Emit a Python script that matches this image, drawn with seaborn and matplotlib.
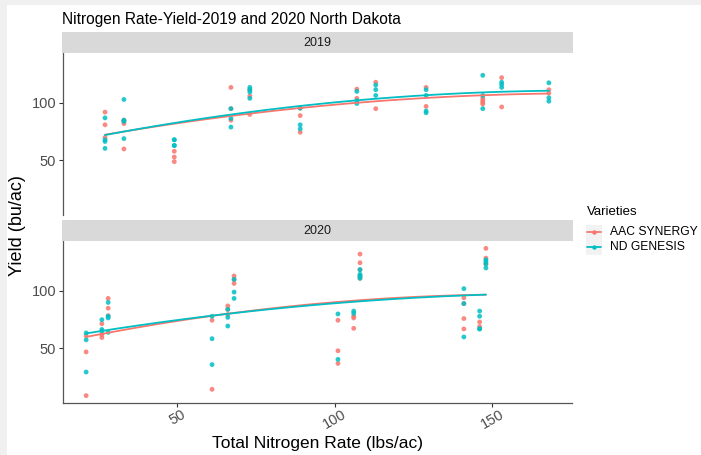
import numpy as np
import pandas as pd
import matplotlib
matplotlib.use("Agg")
import matplotlib.pyplot as plt
from matplotlib.lines import Line2D
from matplotlib.patches import Rectangle
import seaborn as sns

# ---- data -------------------------------------------------------------
years = ["2019", "2020"]
varieties = ["AAC SYNERGY", "ND GENESIS"]

rate_2019_synergy = [27, 27, 27, 33, 33, 33, 33, 49, 49, 49, 67, 67, 67,
                     73, 73, 73, 89, 89, 89, 107, 107, 113, 113, 129, 129,
                     147, 147, 147, 147, 153, 153, 168, 168]
yield_2019_synergy = [92, 81, 70, 82, 60, 85, 84, 58, 53, 49, 113.5, 85, 95,
                      106, 90, 111.5, 89, 74.5, 95.5, 112, 104, 118, 95, 113.5, 97,
                      104, 102, 100.5, 99, 122, 96.5, 111.5, 108.5]

rate_2019_genesis = [27, 27, 27, 27, 33, 33, 33, 33, 49, 49, 49, 49, 67, 67, 67,
                     73, 73, 73, 73, 89, 89, 89, 107, 107, 107, 113, 113, 113,
                     129, 129, 129, 129, 147, 147, 147, 153, 153, 153, 168, 168, 168]
yield_2019_genesis = [87, 68, 66.5, 60.5, 103, 85, 84, 69, 68, 63, 68, 63,
                      95, 86.5, 79,
                      113.5, 111.5, 109.5, 104, 95.5, 81, 77.5, 110, 102, 99.5,
                      115.5, 111.5, 106.5, 111.5, 106.5, 93, 91.5, 124, 106.5, 95,
                      118, 116, 113.5, 117.5, 104.5, 101.5]

rate_2020_synergy = [21, 21, 21, 26, 26, 26, 28, 28, 28, 61, 61, 66, 66, 66,
                     68, 68, 68,
                     101, 101, 101, 106, 106, 106, 108, 108, 108, 108, 108,
                     141, 141, 141, 141, 146, 146, 148, 148, 148]
yield_2020_synergy = [61, 47, 9, 71.5, 62, 59.5, 93.5, 85, 78.5, 74.5, 14.5,
                      87, 79.5, 84, 113, 106.5, 110,
                      74.5, 48, 37, 78, 76.5, 67.5, 132, 124.5, 118.5, 113, 111,
                      94, 89, 76, 67, 73, 69, 137, 128.5, 123.5]

rate_2020_genesis = [21, 21, 21, 26, 26, 26, 28, 28, 28, 28, 61, 61, 61, 66, 66, 66,
                     68, 68, 68, 101, 101, 106, 106, 108, 108, 108, 108,
                     141, 141, 141, 146, 146, 146, 146, 148, 148, 148, 148]
yield_2020_genesis = [63.5, 57.5, 29.5, 75, 66.5, 65, 90, 78, 76.5, 64, 78, 58.5, 36,
                      84, 77, 69.5, 110, 99, 93.5, 80, 40.5, 82.5, 80.5,
                      118.5, 114.5, 113, 111, 102, 89, 60, 82.5, 78, 67, 67,
                      127, 125.5, 123.5, 120]

y_ticks = [50, 100]
x_ticks = [50, 100, 150]

frames = []
for yr, var, r, y in [
    ("2019", "AAC SYNERGY", rate_2019_synergy, yield_2019_synergy),
    ("2019", "ND GENESIS", rate_2019_genesis, yield_2019_genesis),
    ("2020", "AAC SYNERGY", rate_2020_synergy, yield_2020_synergy),
    ("2020", "ND GENESIS", rate_2020_genesis, yield_2020_genesis),
]:
    frames.append(pd.DataFrame({"Year": yr, "Varieties": var,
                                "Rate": r, "Yield": y}))
df = pd.concat(frames, ignore_index=True)

# ---- styling ----------------------------------------------------------
sns.set_style("white")
plt.rcParams["font.family"] = ["Liberation Sans", "DejaVu Sans"]
palette = {"AAC SYNERGY": "#F8766D", "ND GENESIS": "#00BFC4"}
axis_grey = "#4d4d4d"

W, H = 701, 455
fig = plt.figure(figsize=(W / 100, H / 100), dpi=100)
fig.patch.set_facecolor("white")


def box(l, t, r, b):
    return [l / W, 1 - b / H, (r - l) / W, (b - t) / H]


def fx(px):
    return px / W


def fy(py):
    return 1 - py / H


# light frame along the top and left edges
fig.add_artist(Rectangle((0, fy(5)), 1, 5 / H, transform=fig.transFigure,
                         color="#f0f0f0", lw=0, zorder=0))
fig.add_artist(Rectangle((0, 0), fx(7), 1, transform=fig.transFigure,
                         color="#f0f0f0", lw=0, zorder=0))

panels = {
    "2019": dict(ax=box(63, 53, 572, 215), strip=(32, 53)),
    "2020": dict(ax=box(63, 241, 572, 403), strip=(220, 241)),
}

# shared scale limits with 5% padding
xr = (df["Rate"].min(), df["Rate"].max())
yr_ = (df["Yield"].min(), df["Yield"].max())
xpad = 0.05 * (xr[1] - xr[0])
ypad = 0.05 * (yr_[1] - yr_[0])

for i, yr in enumerate(years):
    ax = fig.add_axes(panels[yr]["ax"])
    sub = df[df["Year"] == yr]
    sns.scatterplot(data=sub, x="Rate", y="Yield", hue="Varieties",
                    hue_order=varieties, palette=palette, s=12,
                    linewidth=0, alpha=0.85, legend=False, ax=ax, zorder=2)
    for var in varieties:
        sns.regplot(data=sub[sub["Varieties"] == var], x="Rate", y="Yield",
                    order=2, ci=None, scatter=False, truncate=True,
                    color=palette[var], line_kws=dict(lw=1.3), ax=ax)
    ax.set_xlim(xr[0] - xpad, xr[1] + xpad)
    ax.set_ylim(yr_[0] - ypad, yr_[1] + ypad)
    ax.set_yticks(y_ticks)
    ax.set_yticklabels([str(t) for t in y_ticks], fontsize=10.5, color=axis_grey)
    ax.set_xticks(x_ticks)
    ax.set_xlabel("")
    ax.set_ylabel("")
    for side in ("top", "right"):
        ax.spines[side].set_visible(False)
    ax.spines["left"].set_color("#555555")
    ax.spines["left"].set_linewidth(0.9)
    ax.tick_params(axis="y", length=3, width=0.8, color="#333333", pad=2,
                   left=True)
    if i == 0:
        ax.spines["bottom"].set_visible(False)
        ax.tick_params(axis="x", bottom=False, labelbottom=False)
    else:
        ax.spines["bottom"].set_color("#555555")
        ax.spines["bottom"].set_linewidth(0.9)
        ax.tick_params(axis="x", length=3, width=0.8, color="#333333",
                       bottom=True, pad=0)
        ax.set_xticklabels([str(t) for t in x_ticks], fontsize=10.5,
                           color=axis_grey, rotation=30, ha="center")

    # facet strip
    t, b = panels[yr]["strip"]
    fig.add_artist(Rectangle((fx(62), fy(b)), (573 - 62) / W, (b - t) / H,
                             transform=fig.transFigure, color="#d9d9d9",
                             lw=0, zorder=1))
    fig.text(fx((62 + 573) / 2), fy((t + b) / 2), yr, ha="center",
             va="center", fontsize=9, color="#1a1a1a")

fig.text(fx(62), fy(24), "Nitrogen Rate-Yield-2019 and 2020 North Dakota",
         fontsize=11.2, va="baseline", ha="left", color="black")
fig.text(fx(18), fy(226), "Yield (bu/ac)", rotation=90, ha="center",
         va="center", fontsize=13, color="black")
fig.text(fx(317), fy(448), "Total Nitrogen Rate (lbs/ac)", ha="center",
         va="baseline", fontsize=12.5, color="black")

# legend: title, grey key boxes, line-with-point keys and labels
fig.text(fx(587), fy(215), "Varieties", fontsize=9.5, va="baseline",
         ha="left", color="black")
fig.add_artist(Rectangle((fx(586), fy(255)), 16 / W, 30 / H,
                         transform=fig.transFigure, color="#f2f2f2", lw=0,
                         zorder=1))
for k, var in enumerate(varieties):
    yc = 232.5 + 15 * k
    fig.add_artist(Line2D([fx(587), fx(601)], [fy(yc), fy(yc)],
                          transform=fig.transFigure, color=palette[var],
                          lw=1.3, zorder=2))
    fig.add_artist(Line2D([fx(594)], [fy(yc)], transform=fig.transFigure,
                          color=palette[var], marker="o", markersize=3.2,
                          markeredgewidth=0, lw=0, zorder=3))
    fig.text(fx(610), fy(yc), var, fontsize=8.7, va="center", ha="left",
             color="black")

fig.savefig("out.png", dpi=100)
